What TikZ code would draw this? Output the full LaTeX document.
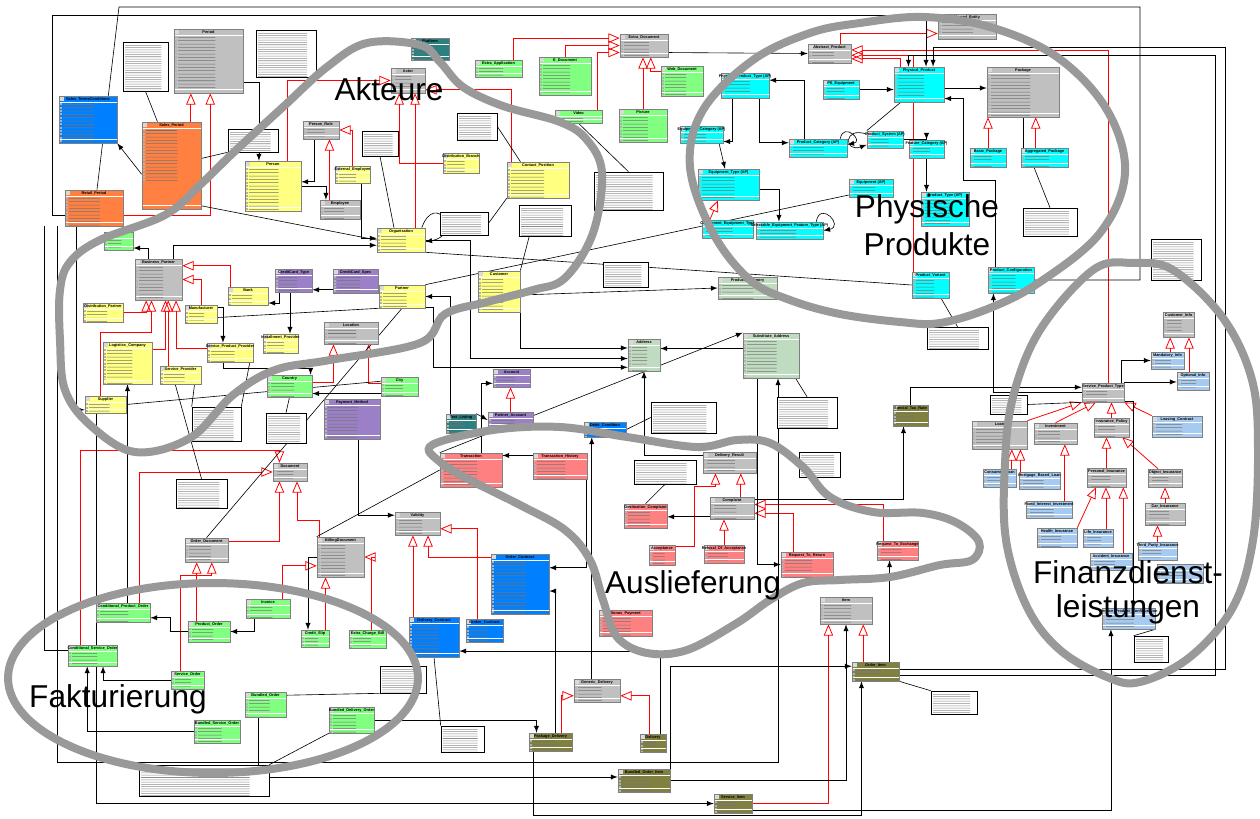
\documentclass[tikz,border=0pt]{standalone}
\usepackage{fontspec}
\setmainfont{Liberation Sans}
\usepackage{tikz}
\usetikzlibrary{arrows,fit,shadows,calc}
\pgfdeclarelayer{background}
\pgfdeclarelayer{foreground}
\pgfsetlayers{background,main,foreground}
\definecolor{cgrey}{HTML}{C0C0C0}
\definecolor{corange}{HTML}{FF8040}
\definecolor{cblue}{HTML}{0080FF}
\definecolor{cyellow}{HTML}{FFFF80}
\definecolor{cgreen}{HTML}{80FF80}
\definecolor{cteal}{HTML}{2E8080}
\definecolor{ccyan}{HTML}{00FFFF}
\definecolor{cpurple}{HTML}{9B80C8}
\definecolor{csage}{HTML}{C0DCC0}
\definecolor{cpink}{HTML}{FF8080}
\definecolor{colive}{HTML}{808040}
\definecolor{clblue}{HTML}{A6CAF0}
\definecolor{cregion}{HTML}{999999}

\begin{document}
\begin{tikzpicture}[x=0.02cm, y=-0.02cm,
    cls/.style={rectangle, draw=black!50, line width=0.35pt, inner sep=0pt,
      path picture={
        \fill[white!85!black] ([shift={(0.6pt,-0.6pt)}]path picture bounding box.north west) rectangle ++(2.1pt,-2.1pt);
        \draw[white, line width=0.45pt] ([yshift=-3.5pt]path picture bounding box.north west) -- ([yshift=-3.5pt]path picture bounding box.north east);
        \foreach \r in {1,...,16} {
          \fill[white!70!black] ([shift={(0.8pt,{-2.3pt-1.9pt*\r})}]path picture bounding box.north west) rectangle ++(1.1pt,-1.1pt);
          \draw[black!55, line width=0.3pt] ($(path picture bounding box.north west)+(2.4pt,{-2.85pt-1.9pt*\r})$) -- ($(path picture bounding box.north west)!0.6!(path picture bounding box.north east)+(0,{-2.85pt-1.9pt*\r})$);
        }
        \draw[white, line width=0.45pt] ([yshift=2pt]path picture bounding box.south west) -- ([yshift=2pt]path picture bounding box.south east);}},
    ttl/.style={font=\fontsize{2.2}{2.4}\selectfont\bfseries, inner sep=0.3pt, yshift=-3.5pt},
    notebox/.style={rectangle, draw=black, line width=0.35pt, fill=white, inner sep=0pt,
      drop shadow={shadow xshift=0.6pt, shadow yshift=-0.6pt, fill=black, opacity=1},
      path picture={
        \foreach \r in {1,...,24} {
          \draw[black!45, line width=0.3pt] ($(path picture bounding box.north west)+(1.2pt,{-0.6pt-1.3pt*\r})$) -- ($(path picture bounding box.north west)!0.85!(path picture bounding box.north east)+(0,{-0.6pt-1.3pt*\r})$);
        }}},
    assoc/.style={draw=black, line width=0.35pt, -latex},
    inh/.style={draw=red, line width=0.45pt, -open triangle 45},
    link/.style={draw=black, line width=0.35pt},
    noteline/.style={draw=black, line width=0.35pt},
    region/.style={draw=cregion, line width=0.16cm},
    biglabel/.style={font=\fontsize{18}{21}\selectfont, inner sep=0pt, anchor=base}]
\useasboundingbox (0,0) rectangle (1260,818);

% grey classes
\node[cls, fill=cgrey, fit={(174,29) (243,93)}, label={[ttl]north:Period}] (period) {};
\node[cls, fill=cgrey, fit={(391,68) (425,93)}, label={[ttl]north:Actor}] (actor) {};
\node[cls, fill=cgrey, fit={(303,121) (339,139)}, label={[ttl]north:Person\_Role}] (personrole) {};
\node[cls, fill=cgrey, fit={(320,200) (360,219)}, label={[ttl]north:Employee}] (employee) {};
\node[cls, fill=cgrey, fit={(135,259) (182,300)}, label={[ttl]north:Business\_Partner}] (businesspartner) {};
\node[cls, fill=cgrey, fit={(620,34) (668,57)}, label={[ttl]north:Extra\_Document}] (extradoc) {};
\node[cls, fill=cgrey, fit={(808,44) (851,63)}, label={[ttl]north:Abstract\_Product}] (abstractproduct) {};
\node[cls, fill=cgrey, fit={(938,14) (996,39)}, label={[ttl]north:Named\_Entity}] (namedentity) {};
\node[cls, fill=cgrey, fit={(987,67) (1059,117)}, label={[ttl]north:Package}] (package) {};
\node[cls, fill=cgrey, fit={(324,322) (378,344)}, label={[ttl]north:Location}] (location) {};
\node[cls, fill=cgrey, fit={(273,463) (307,481)}, label={[ttl]north:Document}] (document) {};
\node[cls, fill=cgrey, fit={(395,512) (440,535)}, label={[ttl]north:Validity}] (validity) {};
\node[cls, fill=cgrey, fit={(185,538) (228,562)}, label={[ttl]north:Order\_Document}] (orderdocument) {};
\node[cls, fill=cgrey, fit={(317,537) (364,577)}, label={[ttl]north:BillingDocument}] (billingdocument) {};
\node[cls, fill=cgrey, fit={(703,452) (756,473)}, label={[ttl]north:Delivery\_Result}] (deliveryresult) {};
\node[cls, fill=cgrey, fit={(710,497) (754,519)}, label={[ttl]north:Complaint}] (complaint) {};
\node[cls, fill=cgrey, fit={(574,679) (620,702)}, label={[ttl]north:Generic\_Delivery}] (genericdelivery) {};
\node[cls, fill=cgrey, fit={(820,597) (872,624)}, label={[ttl]north:Item}] (item) {};
\node[cls, fill=cgrey, fit={(1163,312) (1194,337)}, label={[ttl]north:Customer\_Info}] (customerinfo) {};
\node[cls, fill=cgrey, fit={(1082,383) (1124,402)}, label={[ttl]north:Service\_Product\_Type}] (serviceproducttype) {};
\node[cls, fill=cgrey, fit={(972,421) (1027,449)}, label={[ttl]north:Loan}] (loan) {};
\node[cls, fill=cgrey, fit={(1034,423) (1077,444)}, label={[ttl]north:Investment}] (investment) {};
\node[cls, fill=cgrey, fit={(1094,418) (1129,437)}, label={[ttl]north:Insurance\_Policy}] (insurancepolicy) {};
\node[cls, fill=cgrey, fit={(1087,468) (1126,487)}, label={[ttl]north:Personal\_Insurance}] (personalinsurance) {};
\node[cls, fill=cgrey, fit={(1148,469) (1182,487)}, label={[ttl]north:Object\_Insurance}] (objectinsurance) {};
\node[cls, fill=cgrey, fit={(1145,503) (1185,525)}, label={[ttl]north:Car\_Insurance}] (carinsurance) {};
% orange and blue classes
\node[cls, fill=corange, fit={(142,122) (201,209)}, label={[ttl]north:Sales\_Period}] (salesperiod) {};
\node[cls, fill=corange, fit={(65,190) (123,226)}, label={[ttl]north:Retail\_Period}] (retailperiod) {};
\node[cls, fill=cblue, fit={(59,96) (117,143)}, label={[ttl]north:Sales\_TermsConditions}] (salesterms) {};
\node[cls, fill=cblue, fit={(584,422) (626,437)}, label={[ttl]north:Debit\_Condition}] (debitcondition) {};
\node[cls, fill=cblue, fit={(491,554) (549,614)}, label={[ttl]north:Order\_Contract}] (ordercontract) {};
\node[cls, fill=cblue, fit={(409,617) (459,657)}, label={[ttl]north:Delivery\_Contract}] (deliverycontract) {};
\node[cls, fill=cblue, fit={(466,619) (503,642)}, label={[ttl]north:Broker\_Contract}] (brokercontract) {};
% yellow classes
\node[cls, fill=cyellow, fit={(245,161) (301,211)}, label={[ttl]north:Person}] (person) {};
\node[cls, fill=cyellow, fit={(335,166) (370,183)}, label={[ttl]north:External\_Employee}] (externalemployee) {};
\node[cls, fill=cyellow, fit={(377,228) (425,252)}, label={[ttl]north:Organisation}] (organisation) {};
\node[cls, fill=cyellow, fit={(443,153) (479,173)}, label={[ttl]north:Distribution\_Branch}] (distributionbranch) {};
\node[cls, fill=cyellow, fit={(507,162) (569,198)}, label={[ttl]north:Contact\_Position}] (contactposition) {};
\node[cls, fill=cyellow, fit={(478,271) (520,312)}, label={[ttl]north:Customer}] (customer) {};
\node[cls, fill=cyellow, fit={(379,285) (425,308)}, label={[ttl]north:Partner}] (partner) {};
\node[cls, fill=cyellow, fit={(83,303) (123,322)}, label={[ttl]north:Distribution\_Partner}] (distributionpartner) {};
\node[cls, fill=cyellow, fit={(185,305) (217,323)}, label={[ttl]north:Manufacturer}] (manufacturer) {};
\node[cls, fill=cyellow, fit={(228,287) (268,305)}, label={[ttl]north:Bank}] (bank) {};
\node[cls, fill=cyellow, fit={(103,342) (152,384)}, label={[ttl]north:Logistics\_Company}] (logistics) {};
\node[cls, fill=cyellow, fit={(207,343) (253,362)}, label={[ttl]north:Service\_Product\_Provider}] (serviceproductprovider) {};
\node[cls, fill=cyellow, fit={(263,334) (298,353)}, label={[ttl]north:Installment\_Provider}] (installmentprovider) {};
\node[cls, fill=cyellow, fit={(160,366) (201,384)}, label={[ttl]north:Service\_Provider}] (serviceprovider) {};
\node[cls, fill=cyellow, fit={(85,396) (126,413)}, label={[ttl]north:Supplier}] (supplier) {};
% green classes
\node[cls, fill=cgreen, fit={(475,60) (522,77)}, label={[ttl]north:Extra\_Application}] (extraapplication) {};
\node[cls, fill=cgreen, fit={(539,57) (591,95)}, label={[ttl]north:E\_Document}] (edocument) {};
\node[cls, fill=cgreen, fit={(661,66) (703,96)}, label={[ttl]north:Web\_Document}] (webdocument) {};
\node[cls, fill=cgreen, fit={(555,110) (602,123)}, label={[ttl]north:Video}] (video) {};
\node[cls, fill=cgreen, fit={(619,109) (667,142)}, label={[ttl]north:Picture}] (picture) {};
\node[cls, fill=cgreen, fit={(104,232) (133,250)}] (greenbox) {};
\node[cls, fill=cgreen, fit={(267,375) (312,397)}, label={[ttl]north:Country}] (country) {};
\node[cls, fill=cgreen, fit={(381,377) (418,396)}, label={[ttl]north:City}] (city) {};
\node[cls, fill=cgreen, fit={(96,603) (150,622)}, label={[ttl]north:Conditional\_Product\_Order}] (condproductorder) {};
\node[cls, fill=cgreen, fit={(188,621) (230,642)}, label={[ttl]north:Product\_Order}] (productorder) {};
\node[cls, fill=cgreen, fit={(246,599) (290,618)}, label={[ttl]north:Invoice}] (invoice) {};
\node[cls, fill=cgreen, fit={(301,630) (329,647)}, label={[ttl]north:Credit\_Slip}] (creditslip) {};
\node[cls, fill=cgreen, fit={(349,630) (386,648)}, label={[ttl]north:Extra\_Charge\_Bill}] (extrachargebill) {};
\node[cls, fill=cgreen, fit={(68,645) (117,666)}, label={[ttl]north:Conditional\_Service\_Order}] (condserviceorder) {};
\node[cls, fill=cgreen, fit={(171,671) (204,689)}, label={[ttl]north:Service\_Order}] (serviceorder) {};
\node[cls, fill=cgreen, fit={(245,692) (286,717)}, label={[ttl]north:Bundled\_Order}] (bundledorder) {};
\node[cls, fill=cgreen, fit={(194,720) (240,743)}, label={[ttl]north:Bundled\_Service\_Order}] (bundledserviceorder) {};
\node[cls, fill=cgreen, fit={(329,707) (374,733)}, label={[ttl]north:Bundled\_Delivery\_Order}] (bundleddeliveryorder) {};
% teal, cyan, purple, sage classes
\node[cls, fill=cteal, fit={(411,38) (449,60)}, label={[ttl]north:Platform}] (platform) {};
\node[cls, fill=cteal, fit={(446,414) (476,433)}, label={[ttl]north:Text\_Listing}] (textlisting) {};
\node[cls, fill=ccyan, fit={(721,73) (769,98)}, label={[ttl]north:Physical\_Product\_Type (AP)}] (physproducttype) {};
\node[cls, fill=ccyan, fit={(823,80) (859,99)}, label={[ttl]north:PS\_Equipment}] (cyanps) {};
\node[cls, fill=ccyan, fit={(680,126) (723,143)}, label={[ttl]north:Equipment\_Category (AP)}] (equipmentcategory) {};
\node[cls, fill=ccyan, fit={(789,139) (847,157)}, label={[ttl]north:Product\_Category (AP)}] (productcategoryap) {};
\node[cls, fill=ccyan, fit={(698,169) (759,200)}, label={[ttl]north:Equipment\_Type (AP)}] (equipmenttype) {};
\node[cls, fill=ccyan, fit={(702,220) (753,238)}, label={[ttl]north:Component\_Equipment\_Type}] (componentequipment) {};
\node[cls, fill=ccyan, fit={(756,222) (823,239)}, label={[ttl]north:Selectable\_Equipment\_Feature\_Type (AP)}] (selectablefeature) {};
\node[cls, fill=ccyan, fit={(894,67) (944,102)}, label={[ttl]north:Physical\_Product}] (physicalproduct) {};
\node[cls, fill=ccyan, fit={(970,148) (1006,167)}, label={[ttl]north:Basic\_Package}] (basicpackage) {};
\node[cls, fill=ccyan, fit={(1021,148) (1068,167)}, label={[ttl]north:Aggregated\_Package}] (aggregatedpackage) {};
\node[cls, fill=ccyan, fit={(867,131) (903,148)}, label={[ttl]north:Product\_System (AP)}] (productsystem) {};
\node[cls, fill=ccyan, fit={(909,140) (944,158)}, label={[ttl]north:Feature\_Category (AP)}] (featurecategory) {};
\node[cls, fill=ccyan, fit={(849,179) (893,197)}, label={[ttl]north:Equipment (AP)}] (equipment) {};
\node[cls, fill=ccyan, fit={(921,192) (969,226)}, label={[ttl]north:Product\_Type (AP)}] (producttype) {};
\node[cls, fill=ccyan, fit={(912,272) (949,298)}, label={[ttl]north:Product\_Variant}] (productvariant) {};
\node[cls, fill=ccyan, fit={(988,267) (1034,293)}, label={[ttl]north:Product\_Configuration}] (productconfig) {};
\node[cls, fill=cpurple, fit={(275,269) (312,292)}, label={[ttl]north:CreditCard\_Type}] (creditcardtype) {};
\node[cls, fill=cpurple, fit={(333,269) (378,293)}, label={[ttl]north:CreditCard\_Spec}] (creditcardspec) {};
\node[cls, fill=cpurple, fit={(324,399) (380,439)}, label={[ttl]north:Payment\_Method}] (paymentmethod) {};
\node[cls, fill=cpurple, fit={(493,369) (530,387)}, label={[ttl]north:Account}] (account) {};
\node[cls, fill=cpurple, fit={(488,412) (533,428)}, label={[ttl]north:Partner\_Account}] (partneraccount) {};
\node[cls, fill=csage, fit={(718,277) (777,299)}, label={[ttl]north:Product\_Category}] (productcategory) {};
\node[cls, fill=csage, fit={(628,339) (660,371)}, label={[ttl]north:Address}] (address) {};
\node[cls, fill=csage, fit={(743,333) (799,378)}, label={[ttl]north:Substitute\_Address}] (substituteaddress) {};
% pink, olive, light blue classes
\node[cls, fill=cpink, fit={(440,453) (502,487)}, label={[ttl]north:Transaction}] (transaction) {};
\node[cls, fill=cpink, fit={(533,453) (587,479)}, label={[ttl]north:Transaction\_History}] (transactionhistory) {};
\node[cls, fill=cpink, fit={(624,504) (667,528)}, label={[ttl]north:Destination\_Complaint}] (destcomplaint) {};
\node[cls, fill=cpink, fit={(649,545) (675,565)}, label={[ttl]north:Acceptance}] (acceptance) {};
\node[cls, fill=cpink, fit={(704,545) (744,563)}, label={[ttl]north:Refusal\_Of\_Acceptance}] (refusal) {};
\node[cls, fill=cpink, fit={(781,552) (833,577)}, label={[ttl]north:Request\_To\_Return}] (requestreturn) {};
\node[cls, fill=cpink, fit={(599,610) (652,636)}, label={[ttl]north:Bonus\_Payment}] (bonuspayment) {};
\node[cls, fill=cpink, fit={(877,541) (918,560)}, label={[ttl]north:Request\_To\_Exchange}] (requestexchange) {};
\node[cls, fill=colive, fit={(893,405) (928,426)}, label={[ttl]north:Special\_Tax\_Rate}] (specialtaxrate) {};
\node[cls, fill=colive, fit={(529,733) (572,751)}, label={[ttl]north:Package\_Delivery}] (packagedelivery) {};
\node[cls, fill=colive, fit={(640,734) (666,752)}, label={[ttl]north:Delivery}] (delivery) {};
\node[cls, fill=colive, fit={(618,769) (670,792)}, label={[ttl]north:Bundled\_Order\_Item}] (bundledorderitem) {};
\node[cls, fill=colive, fit={(714,794) (752,813)}, label={[ttl]north:Service\_Item}] (serviceitem) {};
\node[cls, fill=colive, fit={(852,662) (899,681)}, label={[ttl]north:Order\_Item}] (orderitem) {};
\node[cls, fill=clblue, fit={(1151,352) (1184,369)}, label={[ttl]north:Mandatory\_Info}] (mandatoryinfo) {};
\node[cls, fill=clblue, fit={(1177,372) (1209,390)}, label={[ttl]north:Optional\_Info}] (optionalinfo) {};
\node[cls, fill=clblue, fit={(1152,416) (1202,437)}, label={[ttl]north:Leasing\_Contract}] (leasingcontract) {};
\node[cls, fill=clblue, fit={(983,469) (1016,487)}, label={[ttl]north:Consumer\_Loan}] (consumerloan) {};
\node[cls, fill=clblue, fit={(1019,472) (1060,489)}, label={[ttl]north:Mortgage\_Based\_Loan}] (mortgageloan) {};
\node[cls, fill=clblue, fit={(1026,501) (1072,518)}, label={[ttl]north:Fixed\_Interest\_Investment}] (fixedinvestment) {};
\node[cls, fill=clblue, fit={(1037,528) (1077,547)}, label={[ttl]north:Health\_Insurance}] (healthinsurance) {};
\node[cls, fill=clblue, fit={(1083,529) (1113,547)}, label={[ttl]north:Life\_Insurance}] (lifeinsurance) {};
\node[cls, fill=clblue, fit={(1138,542) (1177,560)}, label={[ttl]north:Third\_Party\_Insurance}] (thirdparty) {};
\node[cls, fill=clblue, fit={(1090,553) (1132,570)}, label={[ttl]north:Accident\_Insurance}] (accidentinsurance) {};
\node[cls, fill=clblue, fit={(1157,564) (1203,583)}] (financialbox) {};
\node[cls, fill=clblue, fit={(1102,608) (1155,629)}, label={[ttl]north:Service\_Product\_Configuration}] (serviceconfig) {};

% notes
\node[notebox, fit={(123,42) (168,91)}] (note1) {};
\node[notebox, fit={(256,30) (316,77)}] (note2) {};
\node[notebox, fit={(228,129) (278,152)}] (note3) {};
\node[notebox, fit={(362,131) (398,156)}] (note4) {};
\node[notebox, fit={(457,113) (497,140)}] (note5) {};
\node[notebox, fit={(594,172) (663,210)}] (note6) {};
\node[notebox, fit={(440,212) (488,235)}] (note7) {};
\node[notebox, fit={(519,205) (571,236)}] (note8) {};
\node[notebox, fit={(603,262) (648,287)}] (note9) {};
\node[notebox, fit={(1023,208) (1077,236)}] (note10) {};
\node[notebox, fit={(1151,239) (1201,280)}] (note11) {};
\node[notebox, fit={(927,327) (988,349)}] (note12) {};
\node[notebox, fit={(990,395) (1027,414)}] (note13) {};
\node[notebox, fit={(192,407) (241,441)}] (note14) {};
\node[notebox, fit={(266,413) (306,443)}] (note15) {};
\node[notebox, fit={(176,479) (227,508)}] (note16) {};
\node[notebox, fit={(651,402) (716,433)}] (note17) {};
\node[notebox, fit={(777,397) (837,428)}] (note18) {};
\node[notebox, fit={(634,460) (696,484)}] (note19) {};
\node[notebox, fit={(799,452) (840,477)}] (note20) {};
\node[notebox, fit={(139,765) (269,796)}] (note21) {};
\node[notebox, fit={(441,726) (484,752)}] (note22) {};
\node[notebox, fit={(931,691) (977,714)}] (note23) {};
\node[notebox, fit={(1134,636) (1168,662)}] (note24) {};
\node[notebox, fit={(380,666) (426,693)}] (note25) {};

\begin{pgfonlayer}{background}
% generalisations
\draw[inh] ([xshift=11pt]salesperiod.north) -- ([xshift=11pt]salesperiod.north |- period.south);
\draw[inh] ([yshift=-4pt]retailperiod.east) -| ([xshift=1pt]period.south);
\draw[inh] ([xshift=-8pt]person.north east) |- (actor.west);
\draw[inh] ([xshift=-6pt]employee.north) -- ([xshift=-6pt]employee.north |- personrole.south);
\draw[inh] (externalemployee.north) |- (personrole.east);
\draw[inh] ([xshift=-15pt]contactposition.north) |- ([yshift=2pt]actor.south east);
\draw[inh] (distributionbranch.west) -| ([xshift=-5pt]actor.south);
\draw[inh] ([xshift=8pt]organisation.north) -- ([xshift=8pt]organisation.north |- actor.south);
\draw[inh] (distributionpartner.east) -| ([xshift=-7pt]businesspartner.south);
\draw[inh] ([yshift=-4.5pt]logistics.north east) -| ([xshift=4pt]businesspartner.south);
\draw[inh] ([xshift=-3pt]supplier.north) -- ++(0,-63) -| ([xshift=-4pt]businesspartner.south);
\draw[inh] ([xshift=-7pt]serviceprovider.north) -- ([xshift=-7pt]serviceprovider.north |- businesspartner.south);
\draw[inh] ([yshift=-3pt]serviceproductprovider.north west) -| ([xshift=10pt]businesspartner.south);
\draw[inh] (manufacturer.north) |- (businesspartner.east);
\draw[inh] ([xshift=-10pt]bank.north) |- ([yshift=-4pt]businesspartner.north east);
\draw[inh] (edocument.north) |- (extradoc.west);
\draw[inh] ([xshift=-5pt]extraapplication.north east) |- ([yshift=-2.5pt]extradoc.north west);
\draw[inh] ([xshift=-3pt]video.north east) |- ([yshift=-4pt]extradoc.west);
\draw[inh] (picture.north) -- (picture.north |- extradoc.south);
\draw[inh] ([yshift=-3pt]webdocument.north west) -| ([xshift=-10pt]extradoc.south east);
\draw[inh] ([xshift=4pt]physicalproduct.north west) |- ([yshift=-3pt]abstractproduct.east);
\draw[inh] ([xshift=-6pt]abstractproduct.north east) |- ([yshift=-4pt]namedentity.west);
\draw[inh] ([xshift=3pt]serviceproducttype.north) |- ([yshift=2pt]abstractproduct.east);
\draw[inh] ([xshift=-10pt]productvariant.north) |- ([yshift=-1pt]abstractproduct.east);
\draw[inh] (basicpackage.north) -- (basicpackage.north |- package.south);
\draw[inh] ([xshift=-5pt]aggregatedpackage.north) -- ([xshift=-5pt]aggregatedpackage.north |- package.south);
\draw[inh] ([xshift=-10pt]componentequipment.north) -- ([xshift=-6pt]equipmenttype.south);
\draw[inh] (loan.north east) -- (serviceproducttype.south west);
\draw[inh] (investment.north) -- ([xshift=-4pt]serviceproducttype.south);
\draw[inh] (insurancepolicy.north) -- (insurancepolicy.north |- serviceproducttype.south);
\draw[inh] (leasingcontract.north west) -- (serviceproducttype.south east);
\draw[inh] ([xshift=7pt]consumerloan.north) -- ([xshift=7pt]consumerloan.north |- loan.south);
\draw[inh] ([xshift=1pt]mortgageloan.north west) -- ([xshift=1pt]mortgageloan.north west |- loan.south);
\draw[inh] ([xshift=9pt]fixedinvestment.north) -- ([xshift=9pt]fixedinvestment.north |- investment.south);
\draw[inh] (personalinsurance.north) -- (personalinsurance.north |- insurancepolicy.south);
\draw[inh] ([xshift=-4pt]objectinsurance.north) -- ([xshift=-4pt]insurancepolicy.south east);
\draw[inh] (carinsurance.north) -- (carinsurance.north |- objectinsurance.south);
\draw[inh] (healthinsurance.north east) -- ([xshift=-6pt]personalinsurance.south);
\draw[inh] ([xshift=4.5pt]lifeinsurance.north) -- ([xshift=4.5pt]lifeinsurance.north |- personalinsurance.south);
\draw[inh] ([xshift=7pt]accidentinsurance.north) -- ([xshift=7pt]accidentinsurance.north |- personalinsurance.south);
\draw[inh] (thirdparty.north) -- (thirdparty.north |- carinsurance.south);
\draw[inh] ([xshift=1.5pt]mandatoryinfo.north) -- ([xshift=1.5pt]mandatoryinfo.north |- customerinfo.south);
\draw[inh] ([xshift=-2.3pt]optionalinfo.north) -- ([xshift=-2.3pt]optionalinfo.north |- customerinfo.south);
\draw[inh] ([xshift=-7pt]orderitem.north) -- ([xshift=-7pt]orderitem.north |- item.south);
\draw[inh] (serviceitem.east) -| ([xshift=-10pt]item.south);
\draw[inh] ([xshift=6pt]packagedelivery.north) |- ([yshift=-3pt]genericdelivery.west);
\draw[inh] ([xshift=-2pt]delivery.north) |- ([yshift=-3pt]genericdelivery.east);
\draw[inh] ([yshift=-1pt]acceptance.north east) -| ++(19,-60) -| ([xshift=-8pt]deliveryresult.south);
\draw[inh] (refusal.north) -- (refusal.north |- complaint.south);
\draw[inh] ([xshift=5pt]complaint.north) -- ([xshift=5pt]complaint.north |- deliveryresult.south);
\draw[inh] ([xshift=-8pt]requestreturn.north) |- ([yshift=-3pt]complaint.east);
\draw[inh] ([xshift=-8pt]requestexchange.north) |- ([yshift=2pt]complaint.east);
\draw[inh] ([xshift=-7pt]productorder.north) -- ([xshift=-7pt]productorder.north |- orderdocument.south);
\draw[inh] ([xshift=-4pt]serviceorder.north) -- ++(0,-95) -| ([xshift=3pt]orderdocument.south);
\draw[inh] ([xshift=8pt]invoice.north) |- ([yshift=-5pt]billingdocument.west);
\draw[inh] ([xshift=6pt]creditslip.north) -- ([xshift=6pt]creditslip.north |- billingdocument.south);
\draw[inh] ([xshift=2pt]extrachargebill.north) |- (billingdocument.east);
\draw[inh] ([yshift=-2pt]orderdocument.north east) -| ([xshift=-6pt]document.south);
\draw[inh] ([xshift=-12pt]billingdocument.north) -- ++(0,-16) -| ([xshift=4pt]document.south);
\draw[inh] ([xshift=-4pt]brokercontract.north) |- ([yshift=-3pt]validity.east);
\draw[inh] ([xshift=-12pt]deliverycontract.north) -- ([xshift=-12pt]deliverycontract.north |- validity.south);
\draw[inh] ([yshift=-2pt]ordercontract.north west) -| ([xshift=6pt]validity.south);
\draw[inh] ([yshift=2pt]country.east) -| ([xshift=-10pt]location.south);
\draw[inh] ([yshift=2pt]city.west) -| ([xshift=10pt]location.south);
\draw[inh] (partneraccount.north) -- (partneraccount.north |- account.south);
\draw[inh] ([xshift=-7pt]condserviceorder.north) -- ++(0,-194) -| ([xshift=-6pt]document.north);
\draw[inh] ([xshift=-6pt]condproductorder.north east) |- (document.west);

% associations
\draw[assoc] ([yshift=-5pt]salesperiod.west) -- (salesterms.south east);
\draw[assoc] ([yshift=-12pt]period.east) -| ([xshift=-8pt]person.north);
\draw[assoc] ([xshift=-4pt]personrole.south) |- ([yshift=-12pt]person.north east);
\draw[assoc] (person.east) -| ([xshift=-8pt]employee.north);
\draw[link] ([yshift=2pt]salesperiod.south east) -- (organisation.west);
\draw[assoc] ([xshift=-5pt]externalemployee.south east) |- ([yshift=-6pt]organisation.north west);
\draw[assoc] ([xshift=-6pt]businesspartner.north) |- ([yshift=-4pt]greenbox.east);
\draw[assoc] ([xshift=-5pt]businesspartner.north east) |- ([yshift=-10pt]organisation.north west);
\draw[assoc] ([yshift=-5pt]creditcardspec.west) -- ([yshift=-5pt]creditcardspec.west -| creditcardtype.east);
\draw[assoc] ([xshift=-8pt]creditcardtype.south) |- ([yshift=-4pt]bank.east);
\draw[link] ([yshift=-2pt]manufacturer.east) -- (partner.south west);
\draw[assoc] ([yshift=4pt]manufacturer.east) -| ([xshift=-4pt]serviceproductprovider.north);
\draw[assoc] ([xshift=-2pt]creditcardtype.south) -- ([xshift=-2pt]creditcardtype.south |- installmentprovider.north);
\draw[assoc] ([xshift=-4pt]serviceproductprovider.south) -- ++(0,6) -| ([xshift=12pt]country.north);
\draw[assoc] ([yshift=-4pt]city.west) -- ([yshift=-4pt]city.west -| country.east);
\draw[assoc] ([xshift=3.5pt]paymentmethod.south) |- ([yshift=-2pt]validity.north west);
\draw[link] (supplier.east) -- ([yshift=3pt]city.west);
\draw[assoc] (logistics.south |- condproductorder.north) -- (logistics.south);
\draw[assoc] ([xshift=-5pt]supplier.south) |- (serviceitem.west);
\draw[assoc] (productorder.west) -- ++(-17,0) |- ([yshift=-3pt]condproductorder.east);
\draw[assoc] ([xshift=-8pt]invoice.south) |- (productorder.east);
\draw[assoc] (billingdocument.west) -| ([xshift=-4pt]creditslip.north);
\draw[assoc] (bundledserviceorder.west) -| ([xshift=-3pt]condserviceorder.south);
\draw[assoc] (serviceorder.west) -| ([xshift=6pt]condserviceorder.south);
\draw[assoc] ([xshift=-4pt]bundledorder.south) |- ([yshift=2pt]bundledorderitem.west);
\draw[assoc] (bundleddeliveryorder.east) -| ([xshift=-8pt]packagedelivery.north);
\draw[assoc] ([xshift=3pt]packagedelivery.north) |- ([yshift=-4pt]ordercontract.east);
\draw[assoc] ([xshift=4pt]delivery.north) |- ([yshift=-8pt]deliverycontract.east);
\draw[assoc] ([xshift=15pt]transactionhistory.south) |- ([yshift=-8pt]ordercontract.north east);
\draw[assoc] ([yshift=6pt]transactionhistory.west) -- ([yshift=6pt]transactionhistory.west -| transaction.east);
\draw[assoc] ([xshift=6pt]transaction.north) |- ([yshift=-3pt]account.west);
\draw[assoc] (textlisting.north east) -- (partneraccount.west);
\draw[assoc] ([xshift=-6pt]textlisting.north) |- (partner.east);
\draw[assoc] (customer.south east) |- ([yshift=4pt]address.west);
\draw[assoc] (organisation.east) -- ++(45,0) |- ([yshift=-2pt]address.west);
\draw[assoc] ([yshift=-6pt]partner.east) -- ++(8,0) |- ([yshift=-7pt]address.west);
\draw[assoc] ([yshift=4pt]substituteaddress.west) -- ([yshift=4pt]substituteaddress.west -| address.east);
\draw[assoc] (transaction.north west) -- (substituteaddress.north west);
\draw[assoc] ([xshift=-8pt]substituteaddress.south) |- (requestreturn.west);
\draw[assoc] ([yshift=4pt]deliveryresult.west) -| (address.south);
\draw[assoc] ([xshift=-3pt]genericdelivery.north) -- ([xshift=-3pt]genericdelivery.north |- debitcondition.south);
\draw[assoc] ([yshift=-5pt]complaint.west) -- ([yshift=-5pt]complaint.west -| destcomplaint.east);
\draw[assoc] ([xshift=8pt]orderitem.north) -- ([xshift=8pt]orderitem.north |- requestexchange.south);
\draw[assoc] (bundledorderitem.east) -| (item.south);
\draw[assoc] ([yshift=5pt]complaint.east) -| ([xshift=-4pt]specialtaxrate.south);
\draw[assoc] (specialtaxrate.north) |- ([yshift=3pt]serviceproducttype.west);
\draw[assoc] (serviceproducttype.west) -| ([xshift=-10pt]productconfig.south);
\draw[assoc] ([xshift=-2pt]serviceproducttype.north east) |- (mandatoryinfo.west);
\draw[assoc] ([yshift=6pt]serviceproducttype.east) -- ([yshift=6pt]serviceproducttype.east -| optionalinfo.west);
\draw[assoc] ([yshift=-5pt]serviceproducttype.east) -| ([xshift=2.6pt]serviceconfig.north);
\draw[assoc] ([yshift=-4pt]serviceitem.east) -| ([xshift=-10pt]serviceconfig.south);
\draw[assoc] (bundledorderitem.north east) |- ([yshift=3pt]orderitem.west);
\draw[assoc] ([xshift=-10pt]packagedelivery.south) -- ++(0,64) -| ([xshift=-8pt]orderitem.south);
\draw[assoc] ([xshift=-7pt]physproducttype.south) |- ([yshift=-4pt]equipmentcategory.east);
\draw[assoc] ([xshift=10pt]equipmentcategory.south) -- ([xshift=-2pt]equipmenttype.north);
\draw[assoc] ([xshift=8pt]physproducttype.south) |- ([yshift=3pt]productcategoryap.west);
\draw[assoc] ([yshift=-3pt]equipmenttype.east) -| ([xshift=-6pt]selectablefeature.north);
\draw[assoc] ([xshift=-8pt]productcategoryap.north) |- ([yshift=3pt]physproducttype.east);
\draw[assoc] ([yshift=-4pt]extradoc.east) -- (abstractproduct.west);
\draw[assoc] ([yshift=-2pt]physicalproduct.east) -- ([yshift=-2pt]physicalproduct.east -| package.west);
\draw[assoc] ([xshift=-9pt]productconfig.north) |- ++(-32,-86) |- ([yshift=-8pt]physicalproduct.east);
\draw[link] ([xshift=-12pt]aggregatedpackage.north) -- ([xshift=-12pt]aggregatedpackage.north |- package.south);
\draw[assoc] (featurecategory.south) -- (featurecategory.south |- producttype.north);
\draw[link] ([xshift=4pt]physicalproduct.south west) -- (productsystem.north west);
\draw[assoc] (productsystem.east) -| (featurecategory.north);
\draw[assoc] ([yshift=-2pt]customer.east) -- (productcategory.west);
\draw[link] (partner.north east) -- ([yshift=-4pt]equipment.west);
\draw[link] (organisation.south east) -- (productvariant.west);
\draw[link] (orderdocument.north) -- (partner.south);
\draw[link] (billingdocument.north west) -- (transaction.west);
\draw[assoc] (cyanps.east) -- (cyanps.east -| physicalproduct.west);
\draw[assoc] ([xshift=-4pt]productcategoryap.north east) to[out=80, in=10, looseness=5] ([yshift=2pt]productcategoryap.east);
\draw[assoc] ([xshift=-4pt]selectablefeature.north east) to[out=80, in=10, looseness=5] (selectablefeature.east);
\draw[assoc] ([yshift=-2pt]productsystem.north west) to[out=160, in=200, looseness=6] ([yshift=2pt]productsystem.south west);
\draw[assoc] ([xshift=-2pt]organisation.north east) to[out=70, in=10, looseness=7] ([yshift=-1pt]organisation.east);
% outer frames
\draw[assoc] ([yshift=1pt]orderitem.east) -| (1225,47) -| ([xshift=8pt]physicalproduct.north);
\draw[assoc] ([yshift=-2pt]orderitem.east) -| (1215,55) -| ([xshift=-6pt]physicalproduct.north);
\draw[link] ([xshift=1.7pt]retailperiod.north) -- (119,7) -- (1140,7) |- (productconfig.east);
\draw[assoc] ([yshift=-4pt]retailperiod.west) -| (52,15) -| ([xshift=4pt]physicalproduct.north);
\draw[assoc] ([xshift=-21pt]retailperiod.south) -- ++(0,536) -| ([xshift=4pt]substituteaddress.south);
\draw[link] ([xshift=-28pt]retailperiod.south) |- ([yshift=3pt]condserviceorder.west);
\draw[assoc] ([xshift=-10pt]retailperiod.south) |- ([yshift=-3pt]supplier.west);
% note anchors
\draw[noteline] (note1.south) -- ([xshift=-8pt]salesperiod.north);
\draw[noteline] ([yshift=4pt]salesperiod.east) -- (note3.south west);
\draw[noteline] (note4.south) -- ([xshift=-4pt]organisation.north);
\draw[noteline] (note5.east) -- ([xshift=-10pt]contactposition.north);
\draw[noteline] (note6.north) -- (video.south);
\draw[noteline] (note7.east) -- (contactposition.south west);
\draw[noteline] ([xshift=6pt]note8.south west) -- (customer.north east);
\draw[noteline] ([xshift=-3pt]serviceprovider.south) -- (note16.north);
\draw[noteline] ([xshift=8pt]serviceprovider.south) -- (note14.north west);
\draw[noteline] ([xshift=-2pt]serviceproductprovider.south east) -- (note14.north east);
\draw[noteline] (note15.north) -- (country.south);
\draw[noteline] (note18.north) -- ([xshift=14pt]substituteaddress.south);
\draw[noteline] (note17.west) -- (debitcondition.east);
\draw[noteline] (note19.south) -- (destcomplaint.north);
\draw[noteline] (note13.east) -- (serviceproducttype.south west);
\draw[noteline] (note24.north west) -- (serviceconfig.south east);
\draw[noteline] (note23.north west) -- (orderitem.south east);
\draw[noteline] (note10.north) -- ([xshift=-6pt]aggregatedpackage.south);
\draw[noteline] (note12.north) -- ([xshift=6pt]productvariant.south);
\draw[noteline] ([yshift=-2pt]bundledorder.north east) -- (note25.south west);
\draw[noteline] (note22.north west) -- (deliverycontract.south);
\draw[noteline] (note21.north east) -- (bundleddeliveryorder.south west);
\end{pgfonlayer}

\begin{pgfonlayer}{foreground}
% subject areas
\draw[region] plot[smooth cycle, tension=0.6] coordinates {(420,45) (367,43) (327,67) (283,107) (233,153) (200,185) (165,215) (100,240) (70,262) (60,290) (60,340) (65,390) (90,425) (135,452) (190,438) (233,395) (275,370) (330,360) (420,343) (445,314) (487,302) (533,290) (565,278) (593,233) (602,173) (587,140) (560,122) (503,106) (463,87) (440,62)};
\draw[region] plot[smooth cycle, tension=0.6] coordinates {(860,23) (923,17) (990,27) (1057,57) (1107,110) (1125,173) (1100,233) (1040,282) (990,308) (940,323) (900,322) (840,314) (790,300) (750,280) (713,233) (690,167) (703,110) (753,60) (810,33)};
\draw[region] plot[smooth cycle, tension=0.6] coordinates {(1133,263) (1173,270) (1223,318) (1252,380) (1258,450) (1253,540) (1233,607) (1190,657) (1140,682) (1107,677) (1060,650) (1027,607) (1006,540) (1005,463) (1013,397) (1040,330) (1093,270)};
\draw[region] plot[smooth cycle, tension=0.6] coordinates {(432,445) (493,430) (560,427) (627,437) (697,447) (737,440) (770,443) (803,467) (830,497) (873,512) (923,513) (957,523) (979,542) (972,560) (940,565) (890,577) (840,580) (803,583) (770,600) (737,623) (687,650) (647,653) (617,637) (603,600) (590,560) (565,530) (520,505) (470,480) (440,462)};
\draw[region] (213,678) ellipse [x radius=4.1cm, y radius=1.9cm];
\node[biglabel] (akteure) at (389,100) {Akteure};
\node[biglabel] (physlabel) at (927,217) {Physische};
\node[biglabel] (physlabeltwo) at (927,255) {Produkte};
\node[biglabel] (auslabel) at (693,593) {Auslieferung};
\node[biglabel] (finlabel) at (1128,583) {Finanzdienst-};
\node[biglabel] (finlabeltwo) at (1128,617) {leistungen};
\node[biglabel] (faklabel) at (118,707) {Fakturierung};
\end{pgfonlayer}
\end{tikzpicture}
\end{document}
